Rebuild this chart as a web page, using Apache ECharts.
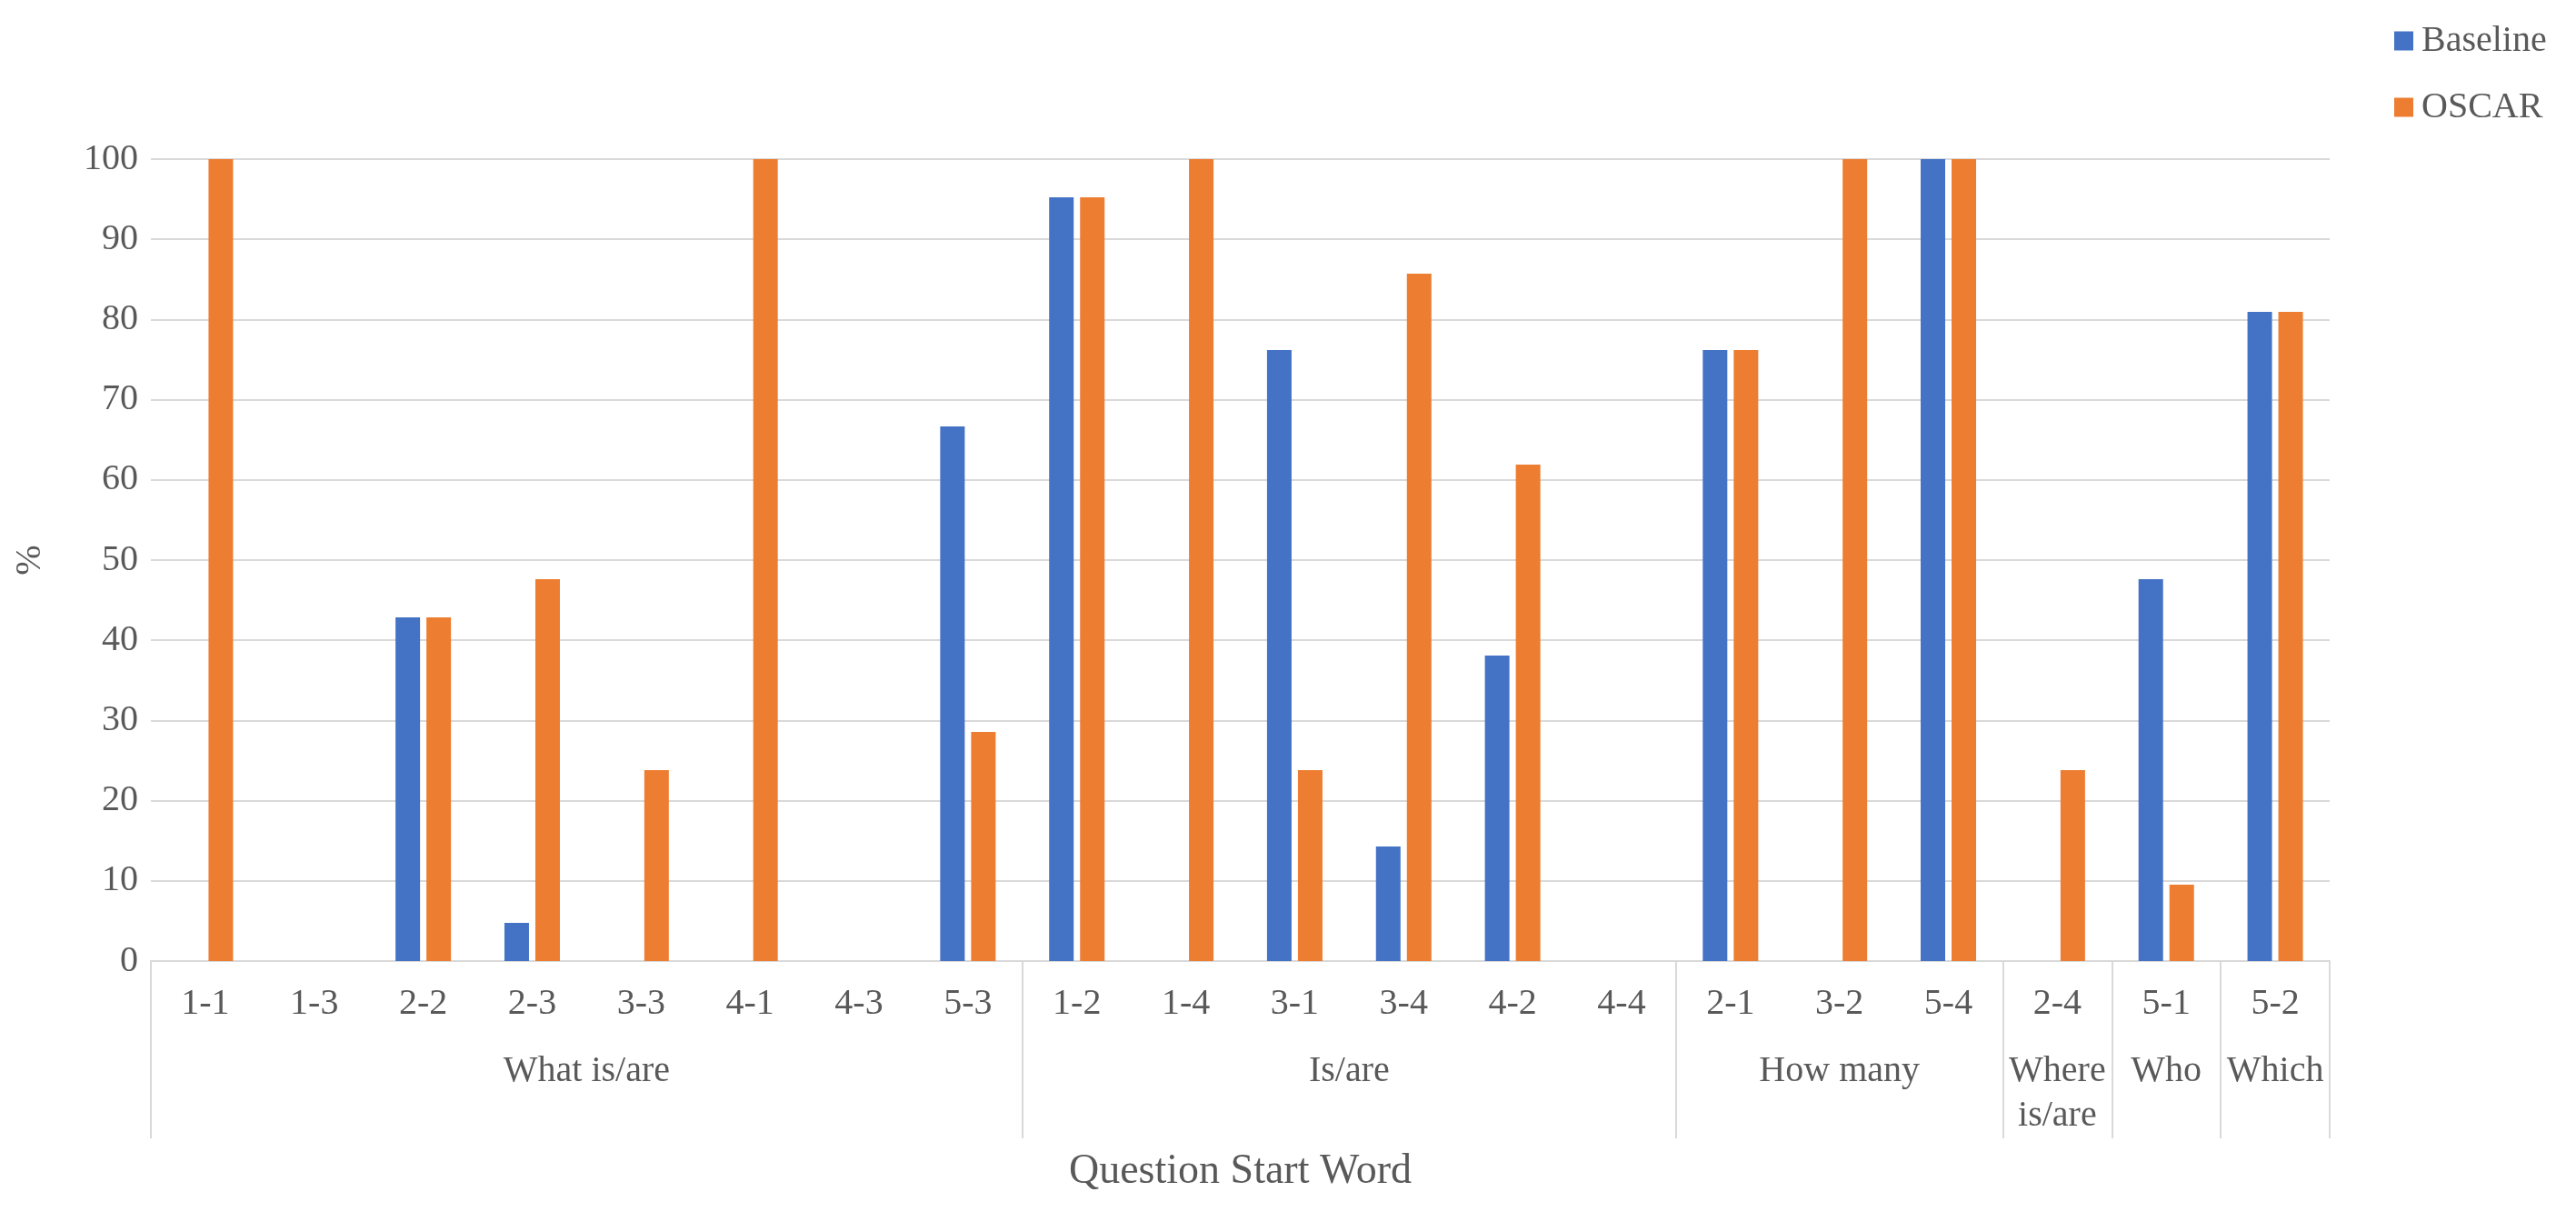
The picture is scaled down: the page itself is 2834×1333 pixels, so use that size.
<!DOCTYPE html>
<html>
<head>
<meta charset="utf-8">
<script src="https://cdn.jsdelivr.net/npm/echarts@6/dist/echarts.min.js"></script>
<style>
html,body{margin:0;padding:0;background:#fff;}
#chart{width:2834px;height:1333px;}
</style>
</head>
<body>
<div id="chart"></div>
<script>
const categories = ['1-1','1-3','2-2','2-3','3-3','4-1','4-3','5-3',
  '1-2','1-4','3-1','3-4','4-2','4-4',
  '2-1','3-2','5-4',
  '2-4',
  '5-1',
  '5-2'];
const groupNames = ['What is/are','Is/are','How many','Where is/are','Who','Which'];
const groupSizes = [8, 6, 3, 1, 1, 1];
const baseline = [0, 0, 42.86, 4.76, 0, 0, 0, 66.67,
  95.24, 0, 76.19, 14.29, 38.10, 0,
  76.19, 0, 100,
  0,
  47.62,
  80.95];
const oscar = [100, 0, 42.86, 47.62, 23.81, 100, 0, 28.57,
  95.24, 100, 23.81, 85.71, 61.90, 0,
  76.19, 100, 100,
  23.81,
  9.52,
  80.95];
const yTicks = [0,10,20,30,40,50,60,70,80,90,100];

// group boundaries and centres (in category units)
const bounds = [0];
groupSizes.forEach(s => bounds.push(bounds[bounds.length-1] + s));
const centres = groupSizes.map((s, i) => bounds[i] + s / 2);

const FONT = '"Liberation Serif", "Times New Roman", serif';
const TXT = '#595959';
const GRID = '#d9d9d9';

const chart = echarts.init(document.getElementById('chart'), null, {renderer:'canvas'});
chart.setOption({
  backgroundColor: '#ffffff',
  animation: false,
  textStyle: {fontFamily: FONT, color: TXT},
  color: ['#4472C4', '#ED7D31'],
  legend: {
    orient: 'vertical',
    left: 2634,
    top: 20,
    itemWidth: 21,
    itemHeight: 21,
    itemGap: 23,
    icon: 'rect',
    padding: 0,
    textStyle: {fontFamily: FONT, fontSize: 40, color: TXT, lineHeight: 50, padding: [0,0,0,4]},
    data: ['Baseline', 'OSCAR']
  },
  grid: {left: 166, right: 271, top: 175, bottom: 276, containLabel: false},
  xAxis: [
    {
      type: 'category',
      data: categories,
      position: 'bottom',
      axisLine: {show: true, lineStyle: {color: GRID, width: 2}},
      axisTick: {show: false},
      axisLabel: {fontFamily: FONT, fontSize: 40, color: TXT, margin: 23, lineHeight: 48, interval: 0},
      splitLine: {show: false}
    },
    {
      type: 'value',
      position: 'bottom',
      min: 0,
      max: bounds[bounds.length-1],
      axisLine: {show: false},
      splitLine: {show: false},
      axisTick: {show: true, customValues: bounds, length: 195, inside: false,
        lineStyle: {color: GRID, width: 2}},
      axisLabel: {
        show: true,
        customValues: centres,
        fontFamily: FONT, fontSize: 40, color: TXT,
        margin: 97, lineHeight: 49, verticalAlign: 'top', align: 'center',
        formatter: function (v) {
          const i = centres.findIndex(c => Math.abs(c - v) < 1e-6);
          if (i < 0) return '';
          const n = groupNames[i];
          return groupSizes[i] === 1 ? n.replace(' ', '\n') : n;
        }
      },
      name: 'Question Start Word',
      nameLocation: 'middle',
      nameGap: 209,
      nameTextStyle: {fontFamily: FONT, fontSize: 46, color: TXT, verticalAlign: 'top'}
    }
  ],
  yAxis: {
    type: 'value',
    min: yTicks[0],
    max: yTicks[yTicks.length-1],
    interval: yTicks[1] - yTicks[0],
    axisLine: {show: false},
    axisTick: {show: false},
    splitLine: {show: true, lineStyle: {color: GRID, width: 2}},
    axisLabel: {fontFamily: FONT, fontSize: 40, color: TXT, margin: 14},
    name: '%',
    nameLocation: 'middle',
    nameGap: 113,
    nameRotate: 90,
    nameTextStyle: {fontFamily: FONT, fontSize: 40, color: TXT}
  },
  series: [
    {name: 'Baseline', type: 'bar', data: baseline, barWidth: 27, barGap: '26%', xAxisIndex: 0},
    {name: 'OSCAR', type: 'bar', data: oscar, barWidth: 27, barGap: '26%', xAxisIndex: 0}
  ]
});
</script>
</body>
</html>
